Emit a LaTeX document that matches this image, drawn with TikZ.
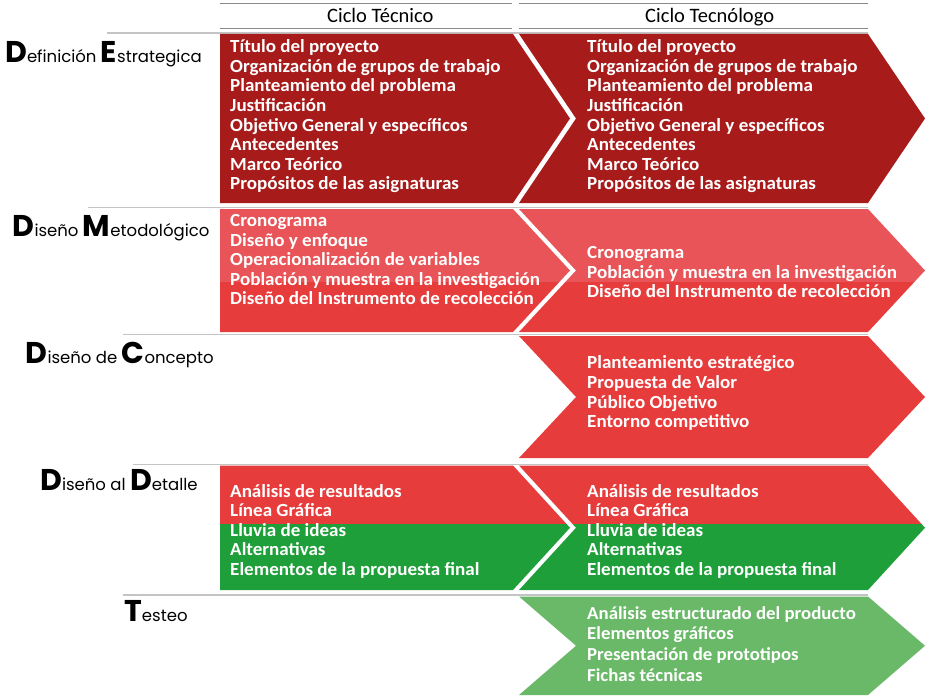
\documentclass[tikz,border=0pt]{standalone}
\usepackage{fontspec}
\setmainfont{Carlito}
\newfontfamily\labfont{Poppins}
\newfontfamily\bodyfont[FakeStretch=1.03]{Carlito}
\definecolor{hdrgray}{HTML}{8A8A8A}
\definecolor{sepgray}{HTML}{C4C4C4}
\definecolor{darkred}{HTML}{A71B1B}
\definecolor{lightred}{HTML}{E85457}
\definecolor{midred}{HTML}{E63C3C}
\definecolor{dgreen}{HTML}{1F9F3A}
\definecolor{lgreen}{HTML}{6AB969}
\newcommand\initL[1]{{\fontsize{30}{30}\bfseries\selectfont #1}}
\tikzset{
 hdr/.style={draw=hdrgray, line width=0.9pt},
 sep/.style={draw=sepgray, line width=1.1pt},
 colA/.style 2 args={insert path={(220,#1) -- (513,#1) -- (570,{(#1+#2)/2}) -- (513,#2) -- (220,#2) -- cycle}},
 colB/.style 2 args={insert path={(519,#1) -- (868,#1) -- (925,{(#1+#2)/2}) -- (868,#2) -- (519,#2) -- (576,{(#1+#2)/2}) -- cycle}},
 body/.style={text=white, font=\bodyfont\bfseries\fontsize{18.5}{19.6}\selectfont, align=left, inner sep=0pt, anchor=west, execute at begin node=\strut, execute at end node=\strut},
 lab/.style={font=\labfont\fontsize{16.5}{18}\selectfont, anchor=base west, inner sep=0pt},
 head/.style={font=\fontsize{20.5}{22}\selectfont, anchor=base west, inner sep=0pt},
}
\begin{document}
\begin{tikzpicture}[x=1pt,y=-1pt]
\useasboundingbox (0,0) rectangle (931,698);
% header
\draw[hdr] (220,3.5) -- (512,3.5);
\draw[hdr] (220,28.5) -- (512,28.5);
\draw[hdr] (519,3.5) -- (868,3.5);
\draw[hdr] (519,28.5) -- (868,28.5);
\node[head] (h1) at (327,22.7) {Ciclo Técnico};
\node[head] (h2) at (645,22.7) {Ciclo Tecnólogo};
% separators
\draw[sep] (107,33) -- (868,33);
\draw[sep] (88,207.5) -- (868,207.5);
\draw[sep] (123,334.5) -- (868,334.5);
\draw[sep] (133,464.5) -- (868,464.5);
\draw[sep] (123,595) -- (868,595);
% row 1
\fill[darkred, colA={34}{203}];
\fill[darkred, colB={34}{203}];
% row 2
\begin{scope}
\clip[colA={209}{332}];
\fill[lightred] (200,200) rectangle (600,282);
\fill[midred] (200,282) rectangle (600,340);
\end{scope}
\begin{scope}
\clip[colB={209}{332}];
\fill[lightred] (500,200) rectangle (940,282);
\fill[midred] (500,282) rectangle (940,340);
\end{scope}
% row 3
\fill[midred, colB={336}{458}];
% row 4
\begin{scope}
\clip[colA={465.5}{590}];
\fill[midred] (200,460) rectangle (600,524);
\fill[dgreen] (200,524) rectangle (600,595);
\end{scope}
\begin{scope}
\clip[colB={465.5}{590}];
\fill[midred] (500,460) rectangle (940,524);
\fill[dgreen] (500,524) rectangle (940,595);
\end{scope}
% row 5
\fill[lgreen, colB={596.5}{695}];
% labels
\node[lab] (l1) at (5,63) {\initL{D}efinición \initL{E}strategica};
\node[lab] (l2) at (12.5,236.7) {\initL{D}iseño \initL{M}etodológico};
\node[lab] (l3) at (25.5,363.3) {\initL{D}iseño de \initL{C}oncepto};
\node[lab] (l4) at (40,490.7) {\initL{D}iseño al \initL{D}etalle};
\node[lab] (l5) at (124,621.7) {\initL{T}esteo};
% texts
\node[body] (a1) at (230,117.8) {Título del proyecto\\Organización de grupos de trabajo\\Planteamiento del problema\\Justificación\\Objetivo General y específicos\\Antecedentes\\Marco Teórico\\Propósitos de las asignaturas};
\node[body] (b1) at (587,117.8) {Título del proyecto\\Organización de grupos de trabajo\\Planteamiento del problema\\Justificación\\Objetivo General y específicos\\Antecedentes\\Marco Teórico\\Propósitos de las asignaturas};
\node[body] (a2) at (230,262.6) {Cronograma\\Diseño y enfoque\\Operacionalización de variables\\Población y muestra en la investigación\\Diseño del Instrumento de recolección};
\node[body] (b2) at (587,275.1) {Cronograma\\Población y muestra en la investigación\\Diseño del Instrumento de recolección};
\node[body] (b3) at (587,394.8) {Planteamiento estratégico\\Propuesta de Valor\\Público Objetivo\\Entorno competitivo};
\node[body] (a4) at (230,532.8) {Análisis de resultados\\Línea Gráfica\\Lluvia de ideas\\Alternativas\\Elementos de la propuesta final};
\node[body] (b4) at (587,532.8) {Análisis de resultados\\Línea Gráfica\\Lluvia de ideas\\Alternativas\\Elementos de la propuesta final};
\node[body, font=\bodyfont\bfseries\fontsize{18.3}{20.6}\selectfont] (b5) at (587,646.8) {Análisis estructurado del producto\\Elementos gráficos\\Presentación de prototipos\\Fichas técnicas};
\end{tikzpicture}
\end{document}
